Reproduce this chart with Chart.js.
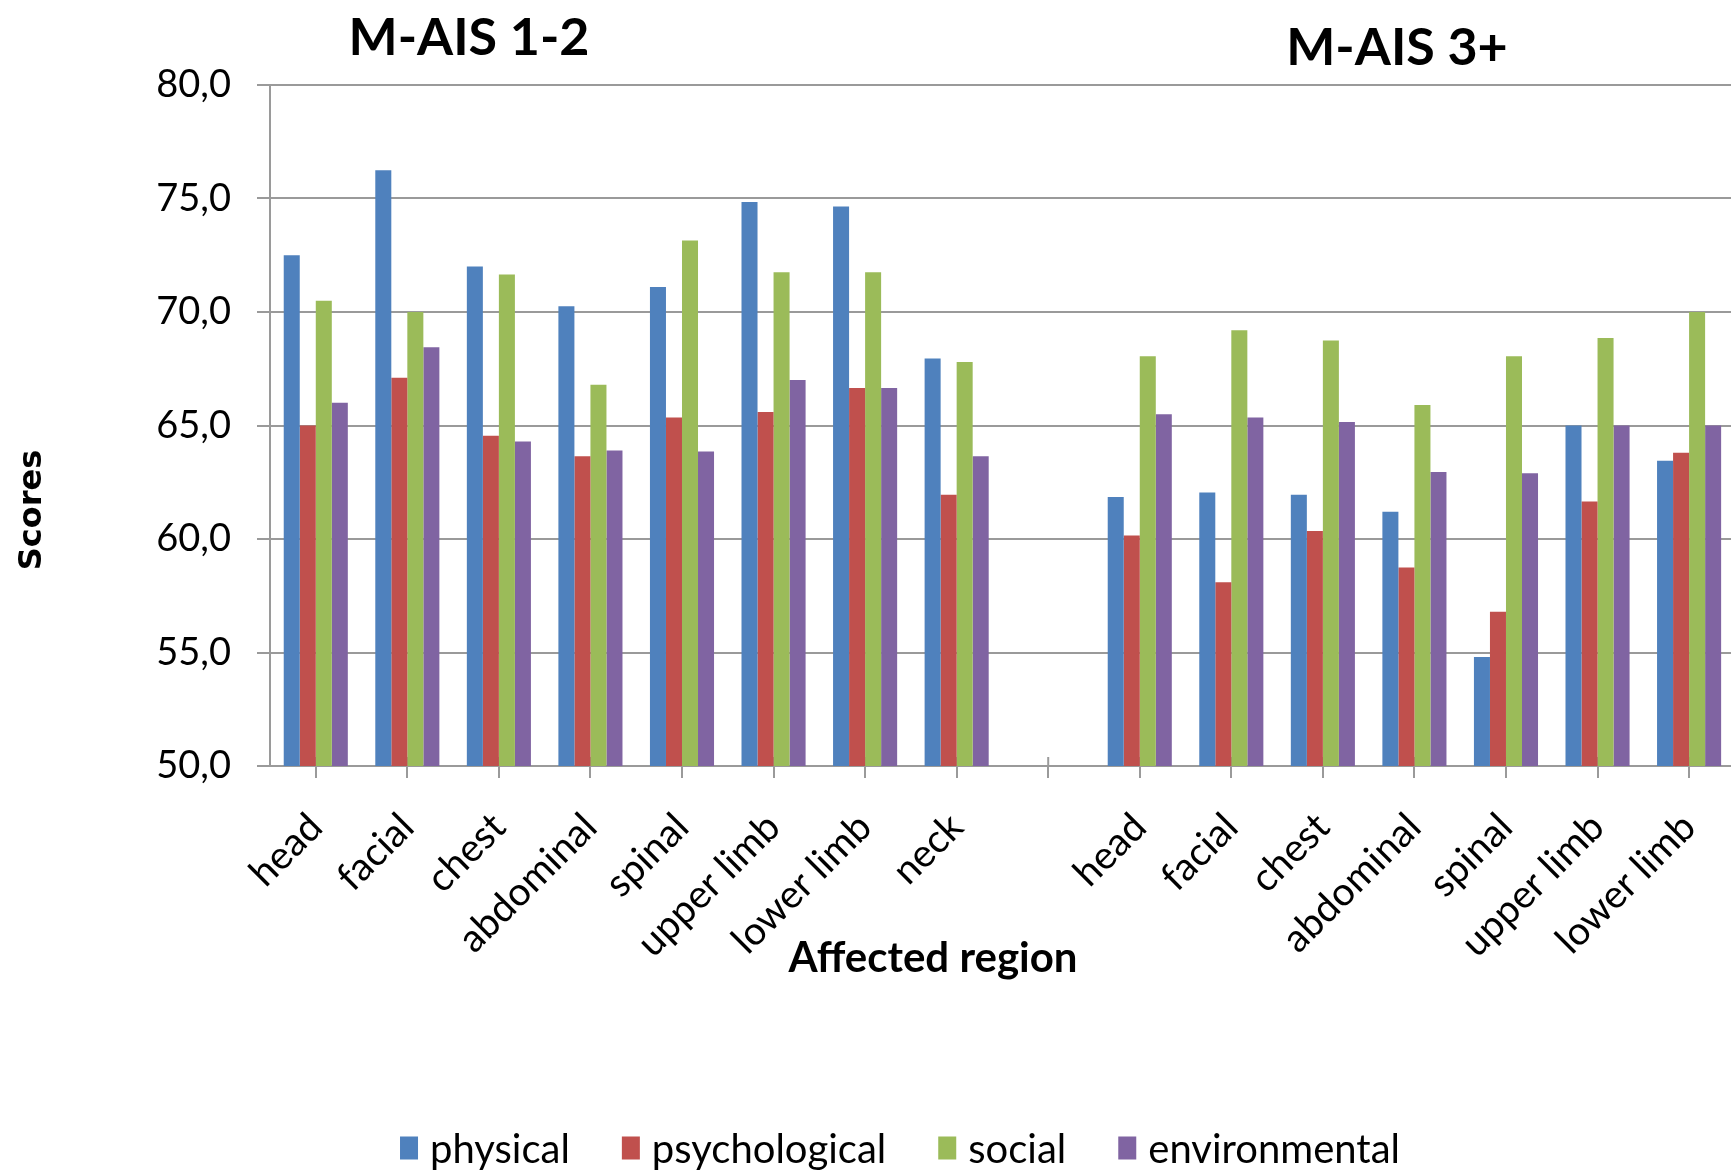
<!DOCTYPE html>
<html>
<head>
<meta charset="utf-8">
<script src="https://cdn.jsdelivr.net/npm/chart.js@4.4.1/dist/chart.umd.min.js"></script>
<style>
  html, body { margin: 0; padding: 0; background: #fff; overflow: hidden; }
  canvas { display: block; }
</style>
</head>
<body>
<canvas id="chart" width="1840" height="1172"></canvas>
<script>
// categories (empty slot = gap between the two severity groups, last one is cut off in the picture)
const regions = ['head', 'facial', 'chest', 'abdominal', 'spinal', 'upper limb', 'lower limb', 'neck', '',
                 'head', 'facial', 'chest', 'abdominal', 'spinal', 'upper limb', 'lower limb', ''];

const physical      = [72.5, 76.25, 72.0, 70.25, 71.1, 74.85, 74.65, 67.95, null, 61.85, 62.05, 61.95, 61.2, 54.8, 65.0, 63.45, null];
const psychological = [65.0, 67.1, 64.55, 63.65, 65.35, 65.6, 66.65, 61.95, null, 60.15, 58.1, 60.35, 58.75, 56.8, 61.65, 63.8, null];
const social        = [70.5, 70.0, 71.65, 66.8, 73.15, 71.75, 71.75, 67.8, null, 68.05, 69.2, 68.75, 65.9, 68.05, 68.85, 70.0, null];
const environmental = [66.0, 68.45, 64.3, 63.9, 63.85, 67.0, 66.65, 63.65, null, 65.5, 65.35, 65.15, 62.95, 62.9, 65.0, 65.0, null];

const seriesNames  = ['physical', 'psychological', 'social', 'environmental'];
const seriesColors = ['#4F81BD', '#C0504D', '#9BBB59', '#8064A2'];
const groupTitles  = ['M-AIS 1-2', 'M-AIS 3+'];
const yMin = 50, yMax = 80, yStep = 5;

const gridColor = '#9a9a9a';

// x tick marks cross the axis line in the original
const crossTicks = {
  id: 'crossTicks',
  beforeDatasetsDraw(chart) {
    const ctx = chart.ctx, xs = chart.scales.x, yb = chart.chartArea.bottom;
    ctx.save();
    ctx.strokeStyle = gridColor;
    ctx.lineWidth = 2;
    xs.ticks.forEach((t, i) => {
      const px = xs.getPixelForTick(i);
      ctx.beginPath();
      ctx.moveTo(px, yb);
      ctx.lineTo(px, yb - 9);
      ctx.stroke();
    });
    ctx.restore();
  }
};

// titles, axis names and legend are free-floating text boxes in the original
const extraText = {
  id: 'extraText',
  afterDraw(chart) {
    const ctx = chart.ctx;
    ctx.save();
    ctx.fillStyle = '#000';
    ctx.textAlign = 'center';
    ctx.textBaseline = 'middle';

    ctx.font = 'bold 52px Lato';
    ctx.fillText(groupTitles[0], 469, 38);
    ctx.fillText(groupTitles[1], 1397, 48);

    ctx.font = 'bold 42px Lato';
    ctx.fillText('Affected region', 933, 958);

    ctx.save();
    ctx.translate(33, 510);
    ctx.rotate(-Math.PI / 2);
    ctx.font = 'bold 32px "DejaVu Sans"';
    ctx.fillText('Scores', 0, 0);
    ctx.restore();

    // legend
    ctx.font = '40px Lato';
    ctx.textAlign = 'left';
    const box = 18, boxH = 23, gap = 12, spacing = 52;
    const items = chart.data.datasets.map(d => ({ label: d.label, color: d.backgroundColor, w: ctx.measureText(d.label).width }));
    let total = 0;
    items.forEach((it, i) => { total += box + gap + it.w + (i < items.length - 1 ? spacing : 0); });
    let x = 900 - total / 2;
    const y = 1148;
    items.forEach(it => {
      ctx.fillStyle = it.color;
      ctx.fillRect(x, y - boxH / 2, box, boxH);
      ctx.fillStyle = '#000';
      ctx.fillText(it.label, x + box + gap, y + 2);
      x += box + gap + it.w + spacing;
    });
    ctx.restore();
  }
};

const datasets = [physical, psychological, social, environmental].map((vals, i) => ({
  label: seriesNames[i],
  data: vals,
  backgroundColor: seriesColors[i],
  borderWidth: 0,
  categoryPercentage: 0.70,
  barPercentage: 1.0
}));

const myChart = new Chart(document.getElementById('chart'), {
  type: 'bar',
  data: { labels: regions, datasets },
  options: {
    responsive: false,
    animation: false,
    layout: { padding: { top: 85, right: 9, bottom: 0, left: 0 } },
    plugins: {
      legend: { display: false },
      tooltip: { enabled: false }
    },
    scales: {
      x: {
        afterFit: s => { s.height = 406; },
        grid: { display: true, drawOnChartArea: false, offset: false, tickLength: 12, color: gridColor, lineWidth: 2 },
        border: { color: gridColor, width: 2 },
        ticks: {
          autoSkip: false, maxRotation: 45, minRotation: 45, padding: 26,
          color: '#000', font: { family: 'Lato', size: 39 }
        }
      },
      y: {
        min: yMin, max: yMax,
        afterFit: s => { s.width = 270; },
        grid: { color: gridColor, lineWidth: 2, tickLength: 13 },
        border: { color: gridColor, width: 2 },
        ticks: {
          stepSize: yStep, padding: 26, color: '#000',
          font: { family: 'Lato', size: 38 },
          callback: v => v.toFixed(1).replace('.', ',')
        }
      }
    }
  },
  plugins: [crossTicks, extraText]
});
</script>
</body>
</html>
